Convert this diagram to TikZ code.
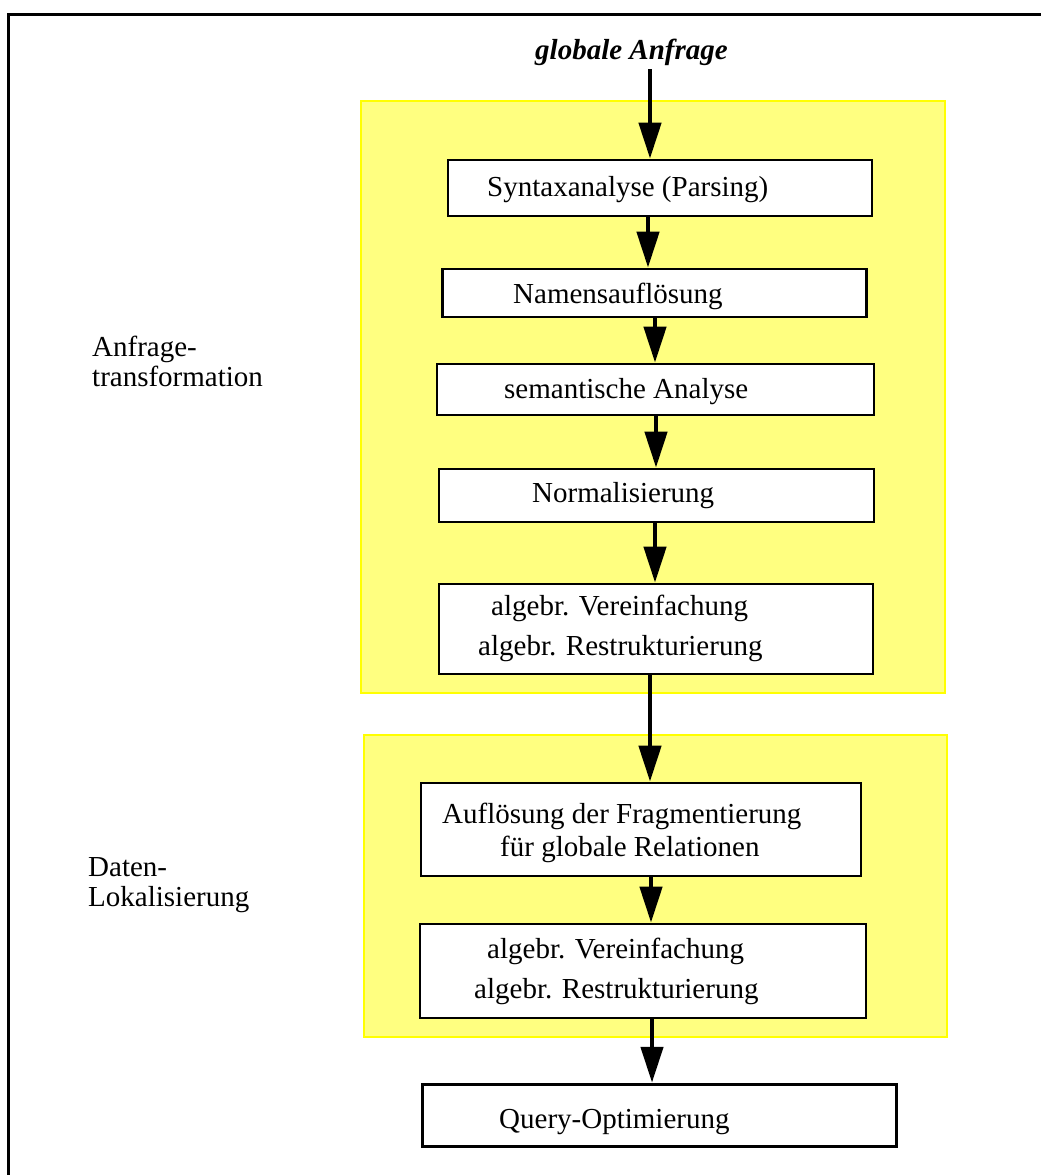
\documentclass[tikz,border=0pt]{standalone}
\usepackage{fontspec}
\setmainfont{Liberation Serif}
\usetikzlibrary{arrows.meta}
\definecolor{paleyellow}{RGB}{255,255,128}
\definecolor{edgeyellow}{RGB}{255,255,0}
\begin{document}
\begin{tikzpicture}[x=1pt,y=-1pt,
  every node/.style={font=\fontsize{29}{30}\selectfont},
  stage/.style={draw=edgeyellow, fill=paleyellow, line width=2pt, inner sep=0pt},
  stepbox/.style={draw=black, fill=white, line width=2.7pt, inner sep=0pt},
  txt/.style={anchor=base west, inner sep=0pt},
  flow/.style={line width=4.5pt, -{Triangle[length=36pt,width=22pt]}}
]
\useasboundingbox (0,0) rectangle (1041,1175);

% outer frame (top and left edges)
\draw[line width=3pt] (1050,14.7) -- (8.5,14.7) -- (8.5,1185);

% phase backgrounds
\node[stage, minimum width=584pt, minimum height=592pt] (phaseA) at (652.5,396.5) {};
\node[stage, minimum width=583pt, minimum height=302pt] (phaseB) at (655.6,885.5) {};

% phase labels
\node[txt] (labA1) at (92,356) {Anfrage-};
\node[txt] (labA2) at (92,386) {transformation};
\node[txt] (labB1) at (88,876) {Daten-};
\node[txt] (labB2) at (88,906) {Lokalisierung};

% input
\node[anchor=base, inner sep=4pt, font=\fontsize{29}{30}\selectfont\bfseries\itshape] (ga) at (631.5,59) {globale Anfrage};

% processing steps
\node[stepbox, minimum width=424pt, minimum height=56pt] (syn) at (660,188) {};
\node[txt] at (487,196) {Syntaxanalyse (Parsing)};

\node[stepbox, minimum width=424pt, minimum height=48pt] (nam) at (654.7,293) {};
\node[txt] at (513,303) {Namensauflösung};

\node[stepbox, minimum width=437pt, minimum height=51pt] (sem) at (655.5,389.5) {};
\node[txt] at (504,398) {semantische Analyse};

\node[stepbox, minimum width=435pt, minimum height=53pt] (norm) at (656.5,495.5) {};
\node[txt] at (532,502) {Normalisierung};

\node[stepbox, minimum width=434pt, minimum height=90pt] (alg1) at (656,629) {};
\node[txt] at (491,615) {algebr. Vereinfachung};
\node[txt] at (478,655) {algebr. Restrukturierung};

\node[stepbox, minimum width=440pt, minimum height=93pt] (auf) at (641,829.5) {};
\node[txt] at (442,823) {Auflösung der Fragmentierung};
\node[txt] at (500,856) {für globale Relationen};

\node[stepbox, minimum width=446pt, minimum height=94pt] (alg2) at (643,971) {};
\node[txt] at (487,958) {algebr. Vereinfachung};
\node[txt] at (474,998) {algebr. Restrukturierung};

\node[stepbox, line width=3.5pt, minimum width=474pt, minimum height=62pt] (qo) at (659.5,1115.5) {};
\node[txt] at (499,1128) {Query-Optimierung};

% connectors
\coordinate (c1) at (650,0);
\coordinate (c2) at (648,0);
\coordinate (c3) at (655,0);
\coordinate (c4) at (656,0);
\coordinate (c5) at (655,0);
\coordinate (c6) at (650,0);
\coordinate (c7) at (651,0);
\coordinate (c8) at (652,0);
\draw[flow] (ga.south -| c1) -- (syn.north -| c1);
\draw[flow] (syn.south -| c2) -- (nam.north -| c2);
\draw[flow] (nam.south -| c3) -- (sem.north -| c3);
\draw[flow] (sem.south -| c4) -- (norm.north -| c4);
\draw[flow] (norm.south -| c5) -- (alg1.north -| c5);
\draw[flow] (alg1.south -| c6) -- (auf.north -| c6);
\draw[flow] (auf.south -| c7) -- (alg2.north -| c7);
\draw[flow] (alg2.south -| c8) -- (qo.north -| c8);
\end{tikzpicture}
\end{document}
